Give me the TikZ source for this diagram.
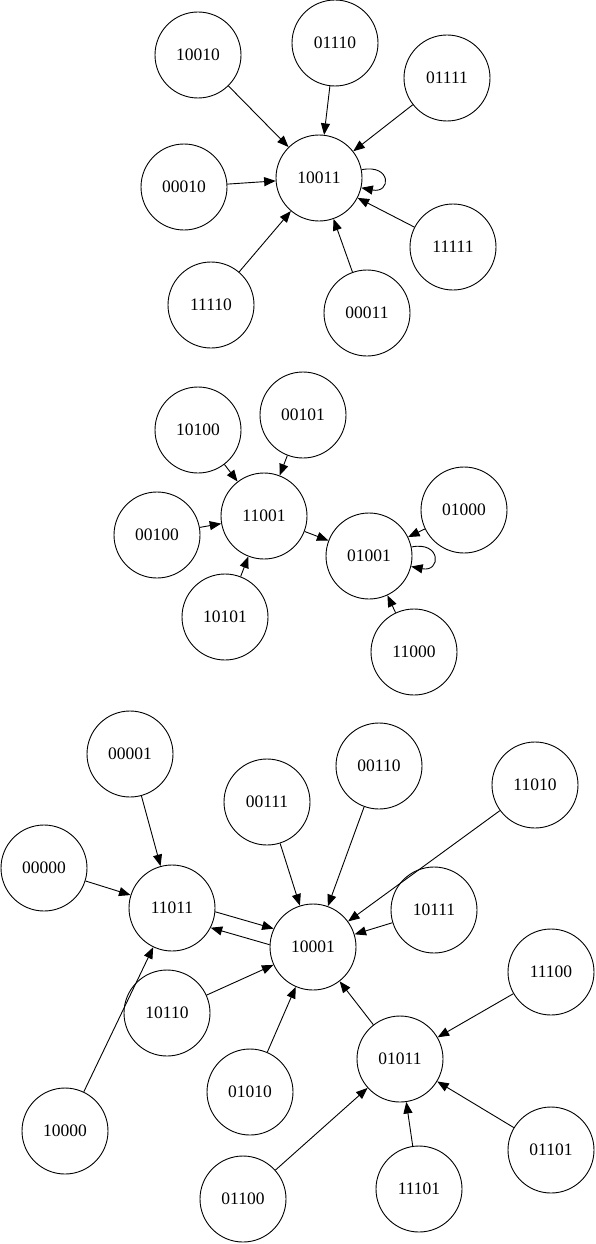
\documentclass[tikz,border=0pt]{standalone}
\usepackage{fontspec}
\setmainfont{Liberation Serif}
\usetikzlibrary{arrows.meta}

\begin{document}
\begin{tikzpicture}[
        x=1pt, y=1pt,
        estado/.style={circle, draw=black, line width=0.9pt, minimum size=86pt, inner sep=0pt, font=\fontsize{17.5}{20}\selectfont},
        flecha/.style={-{Triangle[length=11.5pt, width=9pt]}, line width=0.9pt}
    ]
        \useasboundingbox (0,0) rectangle (595,-1244);

        % primer grupo
        \node[estado] (s10010) at (198,-55) {10010};
        \node[estado] (s01110) at (335,-43) {01110};
        \node[estado] (s01111) at (447,-78) {01111};
        \node[estado] (s00010) at (184,-187) {00010};
        \node[estado] (s10011) at (319,-178) {10011};
        \node[estado] (s11111) at (453,-247) {11111};
        \node[estado] (s11110) at (211,-305) {11110};
        \node[estado] (s00011) at (367,-313) {00011};

        \draw[flecha] (s10010) -- (s10011);
        \draw[flecha] (s01110) -- (s10011);
        \draw[flecha] (s01111) -- (s10011);
        \draw[flecha] (s00010) -- (s10011);
        \draw[flecha] (s11111) -- (s10011);
        \draw[flecha] (s11110) -- (s10011);
        \draw[flecha] (s00011) -- (s10011);
        \draw[flecha] (s10011.11) .. controls +(30,6) and +(30,-6) .. (s10011.-13);

        % segundo grupo
        \node[estado] (s10100) at (198,-430) {10100};
        \node[estado] (s00101) at (303,-415) {00101};
        \node[estado] (s11001) at (264,-516) {11001};
        \node[estado] (s00100) at (157,-535) {00100};
        \node[estado] (s01001) at (369,-556) {01001};
        \node[estado] (s01000) at (464,-510) {01000};
        \node[estado] (s10101) at (225,-617) {10101};
        \node[estado] (s11000) at (414,-652) {11000};

        \draw[flecha] (s10100) -- (s11001);
        \draw[flecha] (s00101) -- (s11001);
        \draw[flecha] (s00100) -- (s11001);
        \draw[flecha] (s10101) -- (s11001);
        \draw[flecha] (s11001) -- (s01001);
        \draw[flecha] (s01000) -- (s01001);
        \draw[flecha] (s11000) -- (s01001);
        \draw[flecha] (s01001.12) .. controls +(30,6) and +(30,-6) .. (s01001.-14);

        % tercer grupo
        \node[estado] (s00001) at (130,-754) {00001};
        \node[estado] (s00111) at (267,-802) {00111};
        \node[estado] (s00110) at (379,-766) {00110};
        \node[estado] (s11010) at (535,-785) {11010};
        \node[estado] (s00000) at (44,-868) {00000};
        \node[estado] (s11011) at (172,-908) {11011};
        \node[estado] (s10111) at (434,-910) {10111};
        \node[estado] (s10001) at (313,-947) {10001};
        \node[estado] (s11100) at (551,-972) {11100};
        \node[estado] (s10110) at (167,-1013) {10110};
        \node[estado] (s01011) at (400,-1059) {01011};
        \node[estado] (s01010) at (250,-1092) {01010};
        \node[estado] (s10000) at (65,-1131) {10000};
        \node[estado] (s01101) at (551,-1150) {01101};
        \node[estado] (s01100) at (243,-1199) {01100};
        \node[estado] (s11101) at (419,-1189) {11101};

        \draw[flecha] (s00001) -- (s11011);
        \draw[flecha] (s00000) -- (s11011);
        \draw[flecha] (s10000) -- (s11011);
        \draw[flecha] (s11011.-5) -- (s10001.155);
        \draw[flecha] (s10001.177) -- (s11011.-27);
        \draw[flecha] (s00111) -- (s10001);
        \draw[flecha] (s00110) -- (s10001);
        \draw[flecha] (s11010) -- (s10001);
        \draw[flecha] (s10111) -- (s10001);
        \draw[flecha] (s10110) -- (s10001);
        \draw[flecha] (s01010) -- (s10001);
        \draw[flecha] (s01011) -- (s10001);
        \draw[flecha] (s11100) -- (s01011);
        \draw[flecha] (s01101) -- (s01011);
        \draw[flecha] (s11101) -- (s01011);
        \draw[flecha] (s01100) -- (s01011);
    \end{tikzpicture}
\end{document}
